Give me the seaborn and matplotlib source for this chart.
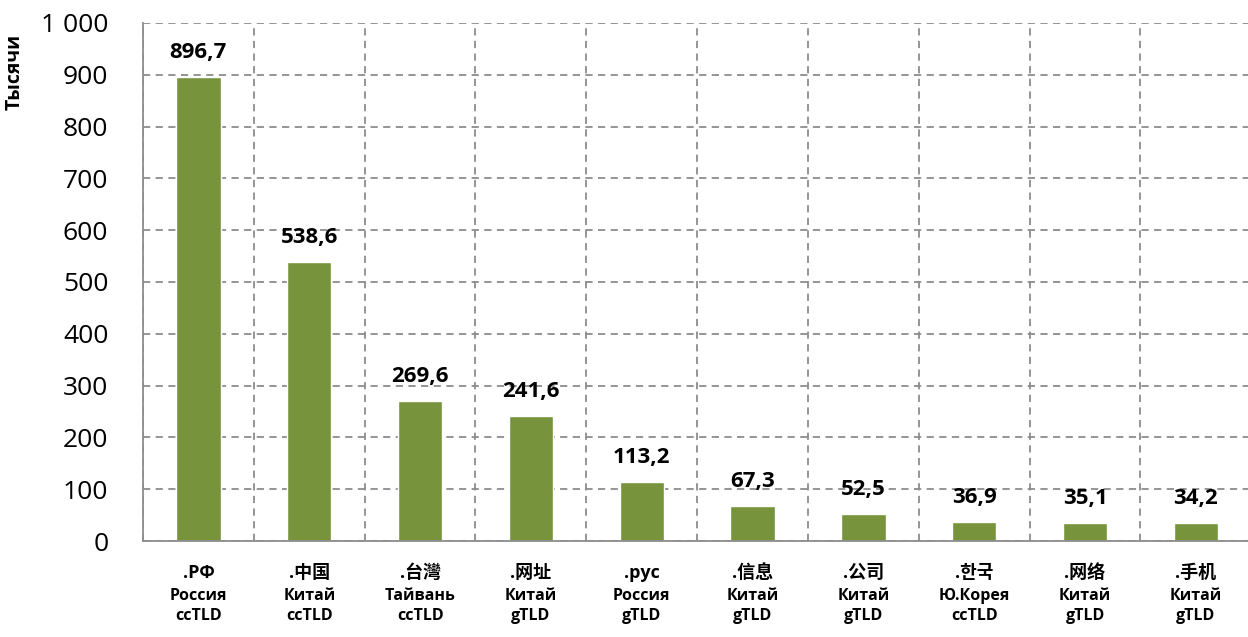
import matplotlib
matplotlib.use("Agg")
import matplotlib.pyplot as plt
import matplotlib.ticker as mticker
import seaborn as sns
import pandas as pd

# --- data ---
domains = [".РФ", ".中国", ".台灣", ".网址", ".рус", ".信息", ".公司", ".한국", ".网络", ".手机"]
countries = ["Россия", "Китай", "Тайвань", "Китай", "Россия", "Китай", "Китай", "Ю.Корея", "Китай", "Китай"]
tld_types = ["ccTLD", "ccTLD", "ccTLD", "gTLD", "gTLD", "gTLD", "gTLD", "ccTLD", "gTLD", "gTLD"]
values = [896.7, 538.6, 269.6, 241.6, 113.2, 67.3, 52.5, 36.9, 35.1, 34.2]
y_ticks = [0, 100, 200, 300, 400, 500, 600, 700, 800, 900, 1000]

sns.set_theme(style="white")
plt.rcParams['font.family'] = ['Open Sans', 'Noto Sans CJK SC', 'DejaVu Sans']

df = pd.DataFrame({"domain": domains, "value": values})

fig = plt.figure(figsize=(12.48, 6.37), dpi=100)
ax = fig.add_axes([0.1146, 0.1507, 0.888, 0.8132])

grid_col = "#8c8c8c"
sns.barplot(data=df, x="domain", y="value", color="#77933C", width=0.4,
            saturation=1, ax=ax, zorder=3)

ax.set_xlim(-0.5, len(values) - 0.5)
ax.set_ylim(0, 1000)
ax.set_yticks(y_ticks)
ax.yaxis.set_major_formatter(mticker.FuncFormatter(lambda v, p: f"{int(v):,}".replace(",", " ")))

ax.set_xticks(range(len(values)))
ax.set_xticklabels([f"{c}\n{t}" for c, t in zip(countries, tld_types)])

# category boundaries as minor ticks / vertical gridlines
ax.set_xticks([i + 0.5 for i in range(-1, len(values) - 1)], minor=True)
ax.tick_params(axis="x", which="major", length=0, pad=34)
ax.tick_params(axis="x", which="minor", length=6, width=1.3, color=grid_col, direction="out")
ax.tick_params(axis="y", which="major", length=7, width=1.3, color=grid_col,
               direction="out", pad=18, labelsize=19)

ax.grid(False)
ax.yaxis.grid(True, which="major", color=grid_col, linestyle=(0, (4, 3)), linewidth=1.3, zorder=0)
ax.xaxis.grid(True, which="minor", color=grid_col, linestyle=(0, (4, 3)), linewidth=1.3, zorder=0)
ax.set_axisbelow(True)

for side in ["top", "right"]:
    ax.spines[side].set_visible(False)
for side in ["left", "bottom"]:
    ax.spines[side].set_color(grid_col)
    ax.spines[side].set_linewidth(1.3)
    ax.spines[side].set_zorder(4)

for lab in ax.get_xticklabels():
    lab.set_fontweight("bold")
    lab.set_fontsize(11.5)
    lab.set_linespacing(1.35)
    lab.set_color("black")
for lab in ax.get_yticklabels():
    lab.set_color("black")

# domain names as the first (larger) line under each category
xform = ax.get_xaxis_transform()
for i, d in enumerate(domains):
    ax.annotate(d, xy=(i, 0), xycoords=xform, xytext=(0, -23), textcoords="offset points",
                ha="center", va="center", fontsize=13, fontweight="bold", color="black",
                annotation_clip=False)

ax.bar_label(ax.containers[0], labels=[f"{v:.1f}".replace(".", ",") for v in values],
             padding=10, fontsize=16, fontweight="bold", color="black")

ax.set_xlabel("")
ax.set_ylabel("Тысячи", fontsize=14, fontweight="bold", color="black")
ax.yaxis.set_label_coords(-0.1065, 0.905)

fig.savefig("out.png", dpi=100)
